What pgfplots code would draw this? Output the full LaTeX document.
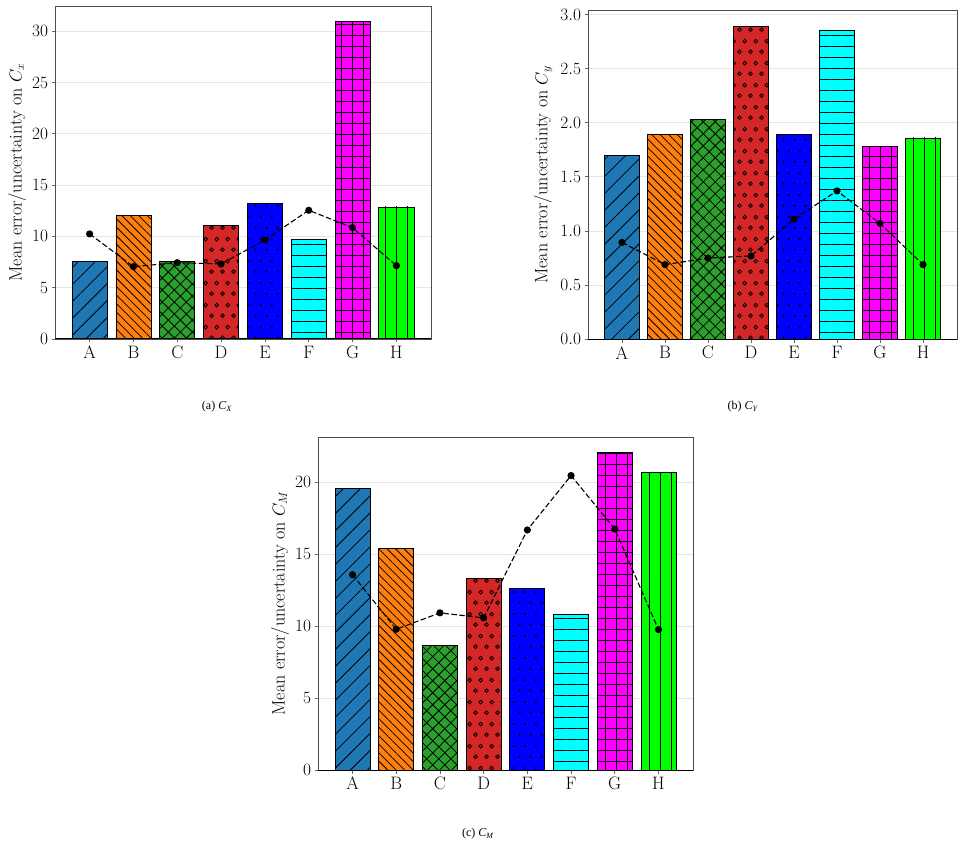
\documentclass[border=0pt]{standalone}
\usepackage{fontspec}
\usepackage{pgfplots}
\pgfplotsset{compat=1.18}
\usetikzlibrary{patterns.meta}
\newfontfamily\capfont{Liberation Serif}
\definecolor{cA}{HTML}{1F77B4}
\definecolor{cB}{HTML}{FF7F0E}
\definecolor{cC}{HTML}{2CA02C}
\definecolor{cD}{HTML}{D62728}
\definecolor{cE}{HTML}{0000FF}
\definecolor{cF}{HTML}{00FFFF}
\definecolor{cG}{HTML}{FF00FF}
\definecolor{cH}{HTML}{00FF00}
\pgfdeclarepattern{
  name=circD, type=uncolored,
  bottom left={\pgfpoint{0pt}{0pt}}, top right={\pgfpoint{11pt}{22pt}},
  tile size={\pgfpoint{11pt}{22pt}},
  code={\pgfsetlinewidth{0.9pt}
    \pgfpathcircle{\pgfpoint{2.75pt}{5.5pt}}{1.9pt}
    \pgfpathcircle{\pgfpoint{8.25pt}{16.5pt}}{1.9pt}
    \pgfusepath{stroke}}}
\pgfdeclarepattern{
  name=dotE, type=uncolored,
  bottom left={\pgfpoint{0pt}{0pt}}, top right={\pgfpoint{11pt}{22pt}},
  tile size={\pgfpoint{11pt}{22pt}},
  code={\pgfsetlinewidth{0.7pt}
    \pgfpathcircle{\pgfpoint{2.75pt}{5.5pt}}{0.9pt}
    \pgfpathcircle{\pgfpoint{8.25pt}{16.5pt}}{0.9pt}
    \pgfusepath{stroke}}}
\pgfplotsset{
  barbase/.style={ybar, bar width=0.8, bar shift=0pt, draw=black, line width=0.8pt},
  pA/.style={barbase, fill=cA, postaction={pattern={Lines[angle=45,distance=12pt,line width=0.8pt]}, pattern color=black}},
  pB/.style={barbase, fill=cB, postaction={pattern={Lines[angle=-45,distance=6pt,line width=0.8pt]}, pattern color=black}},
  pC/.style={barbase, fill=cC, postaction={pattern={Hatch[angle=45,distance=8.5pt,line width=0.8pt]}, pattern color=black}},
  pD/.style={barbase, fill=cD, postaction={pattern=circD, pattern color=black}},
  pE/.style={barbase, fill=cE, postaction={pattern=dotE, pattern color=black}},
  pF/.style={barbase, fill=cF, postaction={pattern={Lines[angle=0,distance=11pt,line width=0.9pt]}, pattern color=black}},
  pG/.style={barbase, fill=cG, postaction={pattern={Hatch[angle=0,distance=11pt,line width=0.9pt]}, pattern color=black}},
  pH/.style={barbase, fill=cH, postaction={pattern={Lines[angle=90,distance=11pt,line width=0.9pt]}, pattern color=black}},
  uline/.style={black, line width=1.1pt, dash pattern=on 5.5pt off 2.5pt, mark=*, mark size=3pt, mark options={solid}},
  panel/.style={
    scale only axis, anchor=south west,
    xmin=-0.79, xmax=7.79, ymin=0,
    xtick={0,1,2,3,4,5,6,7}, xticklabels={A,B,C,D,E,F,G,H},
    tick label style={font=\fontsize{18}{20}\selectfont},
    ymajorgrids, major grid style={gray!20, line width=0.8pt},
    axis line style={black!70, line width=0.8pt},
    tick align=outside, tick pos=left, major tick length=3.5pt,
    every tick/.style={black!60, line width=0.8pt},
    every axis y label/.style={rotate=90, anchor=center, font=\fontsize{18}{20}\selectfont},
  },
}
\begin{document}
\begin{tikzpicture}
\path[use as bounding box] (0pt,0pt) rectangle (963pt,849pt);
% (a) Cx
\begin{axis}[panel, at={(55pt,510pt)}, width=376pt, height=333pt, ymax=32.45,
  ytick={0,5,10,15,20,25,30},
  ylabel={Mean error/uncertainty on $C_x$},
  every axis y label/.append style={at={(axis description cs:-0.101,0.5)}}]
\addplot[pA] coordinates {(0,7.6)};
\addplot[pB] coordinates {(1,12.0)};
\addplot[pC] coordinates {(2,7.6)};
\addplot[pD] coordinates {(3,11.1)};
\addplot[pE] coordinates {(4,13.2)};
\addplot[pF] coordinates {(5,9.75)};
\addplot[pG] coordinates {(6,30.9)};
\addplot[pH] coordinates {(7,12.87)};
\addplot[uline] coordinates {(0,10.24) (1,7.05) (2,7.44) (3,7.31) (4,9.65) (5,12.54) (6,10.85) (7,7.15)};
\draw[black, line width=1pt] (rel axis cs:0,0) -- (rel axis cs:1,0);
\end{axis}
% (b) Cy
\begin{axis}[panel, at={(588pt,509.7pt)}, width=369pt, height=328.6pt, ymax=3.035,
  ytick={0,0.5,1,1.5,2,2.5,3},
  yticklabel style={/pgf/number format/fixed, /pgf/number format/precision=1, /pgf/number format/fixed zerofill},
  ylabel={Mean error/uncertainty on $C_y$},
  every axis y label/.append style={at={(axis description cs:-0.122,0.5)}}]
\addplot[pA] coordinates {(0,1.70)};
\addplot[pB] coordinates {(1,1.89)};
\addplot[pC] coordinates {(2,2.03)};
\addplot[pD] coordinates {(3,2.89)};
\addplot[pE] coordinates {(4,1.89)};
\addplot[pF] coordinates {(5,2.856)};
\addplot[pG] coordinates {(6,1.78)};
\addplot[pH] coordinates {(7,1.86)};
\addplot[uline] coordinates {(0,0.895) (1,0.69) (2,0.75) (3,0.77) (4,1.11) (5,1.37) (6,1.07) (7,0.69)};
\draw[black, line width=1pt] (rel axis cs:0,0) -- (rel axis cs:1,0);
\end{axis}
% (c) CM
\begin{axis}[panel, at={(318pt,79pt)}, width=375pt, height=333pt, ymax=23.14,
  ytick={0,5,10,15,20},
  ylabel={Mean error/uncertainty on $C_M$},
  every axis y label/.append style={at={(axis description cs:-0.101,0.5)}}]
\addplot[pA] coordinates {(0,19.58)};
\addplot[pB] coordinates {(1,15.42)};
\addplot[pC] coordinates {(2,8.64)};
\addplot[pD] coordinates {(3,13.31)};
\addplot[pE] coordinates {(4,12.61)};
\addplot[pF] coordinates {(5,10.82)};
\addplot[pG] coordinates {(6,22.04)};
\addplot[pH] coordinates {(7,20.70)};
\addplot[uline] coordinates {(0,13.57) (1,9.78) (2,10.92) (3,10.57) (4,16.68) (5,20.46) (6,16.75) (7,9.76)};
\draw[black, line width=1pt] (rel axis cs:0,0) -- (rel axis cs:1,0);
\end{axis}
\node[font=\capfont\fontsize{12}{14}\selectfont] at (217pt,442pt) {(a) \textit{C}\textsubscript{\textit{X}}};
\node[font=\capfont\fontsize{12}{14}\selectfont] at (743pt,442pt) {(b) \textit{C}\textsubscript{\textit{Y}}};
\node[font=\capfont\fontsize{12}{14}\selectfont] at (478pt,15pt) {(c) \textit{C}\textsubscript{\textit{M}}};
\end{tikzpicture}
\end{document}
